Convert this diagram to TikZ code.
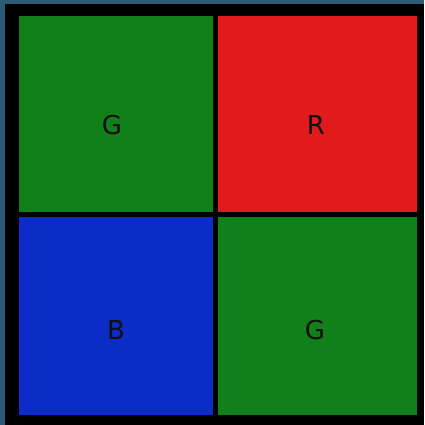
\documentclass[tikz,border=0pt]{standalone}
\usepackage{fontspec}
\setmainfont{DejaVu Sans}
\definecolor{bgc}{HTML}{2B5A77}
\definecolor{cg}{HTML}{12801A}
\definecolor{cr}{HTML}{E11B1B}
\definecolor{cb}{HTML}{0B2CC6}
\definecolor{txt}{HTML}{101010}
\begin{document}
\begin{tikzpicture}[x=1pt,y=-1pt,
  cell/.style={inner sep=0pt,outer sep=0pt},
  lbl/.style={text=txt,font=\fontsize{26}{30}\selectfont}]
\fill[bgc] (0,0) rectangle (424,425);
\useasboundingbox (0,0) rectangle (424,425);
\fill[black] (5,4) rectangle (424,425);
\fill[cg] (19,16) rectangle (213,212);
\fill[cr] (218,16) rectangle (417,212);
\fill[cb] (19,217) rectangle (213,415);
\fill[cg] (218,217) rectangle (417,415);
\node[lbl] (g1) at (112,125) {G};
\node[lbl] (r) at (316,125) {R};
\node[lbl] (b) at (116,330) {B};
\node[lbl] (g2) at (315,330) {G};
\end{tikzpicture}
\end{document}
